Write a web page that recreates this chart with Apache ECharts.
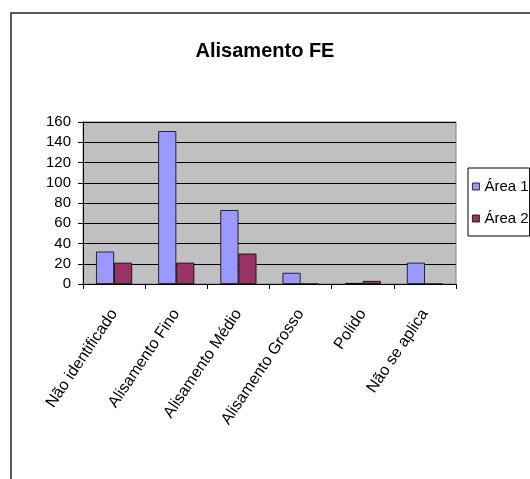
<!DOCTYPE html>
<html>
<head>
<meta charset="utf-8">
<script src="https://cdn.jsdelivr.net/npm/echarts@6/dist/echarts.min.js"></script>
<style>
  html, body { margin: 0; padding: 0; background: #fff; }
  #chart { width: 530px; height: 479px; }
</style>
</head>
<body>
<div id="chart"></div>
<script>
var categories = ['Não identificado', 'Alisamento Fino', 'Alisamento Médio', 'Alisamento Grosso', 'Polido', 'Não se aplica'];
var area1 = [32, 151, 73, 11, 1, 21];
var area2 = [21, 21, 30, 0, 3, 0];
var yTicks = [0, 20, 40, 60, 80, 100, 120, 140, 160];

var font = '"Liberation Sans", Arial, sans-serif';

var chart = echarts.init(document.getElementById('chart'));

var option = {
  animation: false,
  backgroundColor: '#fff',
  title: {
    text: 'Alisamento FE',
    left: 'center',
    top: 36,
    textStyle: { fontFamily: font, fontSize: 20, fontWeight: 'bold', color: '#000' }
  },
  graphic: [{
    type: 'rect',
    shape: { x: 11, y: 13, width: 600, height: 600 },
    style: { fill: 'none', stroke: '#222', lineWidth: 1.5 },
    silent: true
  }],
  legend: {
    orient: 'vertical',
    left: 468,
    top: 168,
    data: ['Área 1', 'Área 2'],
    icon: 'rect',
    itemWidth: 7,
    itemHeight: 7,
    itemGap: 17,
    padding: [11, 1, 10, 4],
    borderColor: '#000',
    borderWidth: 1,
    textStyle: { fontFamily: font, fontSize: 15, color: '#000' },
    itemStyle: { borderColor: '#000', borderWidth: 0.8 }
  },
  grid: {
    left: 83,
    right: 74,
    top: 122,
    bottom: 195,
    show: true,
    backgroundColor: '#c0c0c0',
    borderColor: '#808080',
    borderWidth: 1
  },
  xAxis: {
    type: 'category',
    data: categories,
    axisLine: { lineStyle: { color: '#000' } },
    axisTick: { show: true, length: 5, lineStyle: { color: '#000' } },
    axisLabel: {
      rotate: 56,
      interval: 0,
      margin: 27,
      fontFamily: font,
      fontSize: 16,
      color: '#000'
    }
  },
  yAxis: {
    type: 'value',
    min: yTicks[0],
    max: yTicks[yTicks.length - 1],
    interval: 20,
    axisLine: { show: true, lineStyle: { color: '#000' } },
    axisTick: { show: true, length: 5, lineStyle: { color: '#000' } },
    axisLabel: { margin: 12, fontFamily: font, fontSize: 15, color: '#000' },
    splitLine: { show: true, lineStyle: { color: '#000', width: 1 } }
  },
  series: [
    {
      name: 'Área 1',
      type: 'bar',
      data: area1,
      barGap: '0%',
      barCategoryGap: '42%',
      itemStyle: { color: '#9999ff', borderColor: '#000', borderWidth: 0.8 }
    },
    {
      name: 'Área 2',
      type: 'bar',
      data: area2,
      itemStyle: { color: '#993366', borderColor: '#000', borderWidth: 0.8 }
    }
  ]
};

chart.setOption(option);
</script>
</body>
</html>
